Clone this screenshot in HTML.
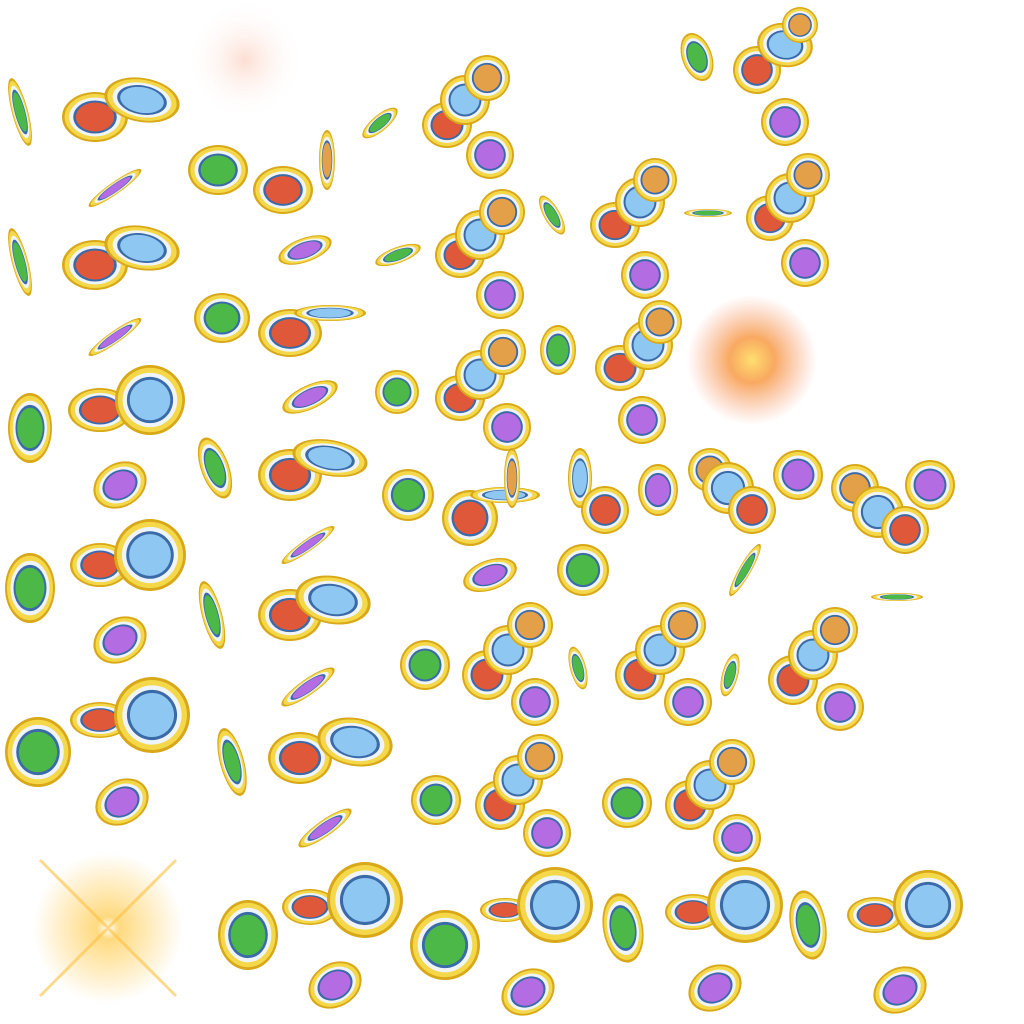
<!DOCTYPE html>
<html><head><meta charset="utf-8"><title>Coin sprite sheet</title>
<style>html,body{margin:0;padding:0;background:#fff;width:1024px;height:1024px;overflow:hidden}svg{display:block}</style></head>
<body>
<svg id="sheet" width="1024" height="1024" viewBox="0 0 1024 1024" xmlns="http://www.w3.org/2000/svg">
<defs>
<radialGradient id="glowO"><stop offset="0" stop-color="#ffe070"/><stop offset="0.35" stop-color="#f8a050" stop-opacity="0.9"/><stop offset="1" stop-color="#f8a080" stop-opacity="0"/></radialGradient>
<radialGradient id="glowS"><stop offset="0" stop-color="#fff"/><stop offset="0.15" stop-color="#ffd060"/><stop offset="1" stop-color="#ffd060" stop-opacity="0"/></radialGradient>
<radialGradient id="glowP"><stop offset="0" stop-color="#fbd0c0" stop-opacity="0.7"/><stop offset="1" stop-color="#fff" stop-opacity="0"/></radialGradient>
</defs>
<g id="fx">
<circle cx="245" cy="60" r="60" fill="url(#glowP)"/>
<circle cx="752" cy="360" r="65" fill="url(#glowO)"/>
<circle cx="108" cy="928" r="75" fill="url(#glowS)" opacity="0.8"/>
<path d="M108 928 L40 860 M108 928 L176 860 M108 928 L40 996 M108 928 L176 996" stroke="#ffc040" stroke-width="3" opacity="0.6"/>
</g>
<g id="coins"></g>
</svg>
<script>
const cx=[20,95,142,380,447,465,487,490,697,757,785,800,785,
115,218,283,327,305,398,
20,95,142,115,222,290,330,460,480,502,500,552,615,640,655,645,708,770,790,808,805,
30,100,150,120,215,310,397,290,330,460,480,503,507,558,620,648,660,642,
408,470,505,512,580,605,658,710,728,752,798,855,878,905,930,
30,100,150,120,212,308,290,333,490,583,745,897,
425,487,508,530,535,578,640,660,683,688,730,793,813,835,840,
38,100,152,122,232,308,300,355,325,436,500,518,540,547,627,690,710,732,737,
248,310,365,335,445,505,555,528,623,693,745,715,808,875,928,900];
const cy=[112,117,100,123,125,100,78,155,57,70,45,25,122,
188,170,190,160,250,255,
262,265,248,337,318,333,313,255,235,212,295,215,225,202,180,275,213,218,198,175,263,
428,410,400,485,468,397,392,475,458,398,375,352,427,350,368,345,322,420,
495,518,495,478,478,510,490,470,488,510,475,488,512,530,485,
588,565,555,640,615,545,615,600,575,570,570,597,
665,675,650,625,702,668,675,650,625,702,675,680,655,630,707,
752,720,715,802,762,687,758,742,828,800,805,780,757,833,803,805,785,762,838,
935,907,900,985,945,910,905,992,928,912,905,988,925,915,905,990];
const rx=[8,33,38,22,25,25,23,24,15,24,28,18,24,
32,30,30,8,28,24,
8,33,38,32,28,32,36,25,25,23,24,8,25,25,22,24,24,24,25,22,24,
22,32,35,28,14,30,22,32,38,25,25,23,24,18,25,25,22,24,
26,28,35,8,12,24,20,22,26,24,25,24,26,24,25,
25,30,36,28,10,32,32,38,28,26,6,26,
25,25,25,23,24,8,25,25,23,24,8,25,25,23,24,
33,30,38,28,12,32,32,38,32,25,25,25,23,24,25,25,25,23,24,
30,28,38,28,35,25,38,28,20,28,38,28,18,28,35,28];
const ry=[35,25,22,8,23,25,23,24,25,24,22,18,24,
6,25,24,30,12,8,
35,25,22,6,25,24,8,23,25,23,24,22,23,25,22,24,4,23,25,22,24,
35,22,35,22,32,12,22,26,18,23,25,23,24,25,23,25,22,24,
26,28,8,30,30,24,26,22,26,24,25,24,26,24,25,
35,22,36,22,35,6,26,24,15,26,30,4,
25,25,25,23,24,22,25,25,23,24,22,25,25,23,24,
35,18,38,22,35,8,26,24,8,25,25,25,23,24,25,25,25,23,24,
35,18,38,22,35,12,38,22,35,18,38,22,35,18,35,22];
const rot=[-15,0,10,-40,0,0,0,0,-20,0,10,0,0,
-35,0,0,0,-20,-20,
-15,0,10,-35,0,0,0,0,0,0,0,-30,0,0,0,0,0,0,0,0,0,
0,0,0,-30,-20,-25,0,0,10,0,0,0,0,0,0,0,0,0,
0,0,0,0,0,0,0,0,0,0,0,0,0,0,0,
0,0,0,-30,-15,-35,0,10,-20,0,30,0,
0,0,0,0,0,-15,0,0,0,0,15,0,0,0,0,
0,0,10,-30,-15,-35,0,10,-35,0,0,0,0,0,0,0,0,0,0,
0,0,0,-30,0,0,0,-30,-10,0,0,-30,-10,0,0,-30];
const col=['g','o','b','g','o','b','t','p','g','o','b','t','p',
'p','g','o','t','p','g',
'g','o','b','p','g','o','b','o','b','t','p','g','o','b','t','p','g','o','b','t','p',
'g','o','b','p','g','p','g','o','b','o','b','t','p','g','o','b','t','p',
'g','o','b','t','b','o','p','t','b','o','p','t','b','o','p',
'g','o','b','p','g','p','o','b','p','g','g','g',
'g','o','b','t','p','g','o','b','t','p','g','o','b','t','p',
'g','o','b','p','g','p','o','b','p','g','o','b','t','p','g','o','b','t','p',
'g','o','b','p','g','o','b','p','g','o','b','p','g','o','b','p'];
const fills={g:'#4cb848',o:'#e0583a',b:'#8ec8f2',p:'#b46ce2',t:'#e4a048'};
const names={g:'green',o:'orange',b:'blue',p:'purple',t:'tan'};
const g=document.getElementById('coins');
const NS='http://www.w3.org/2000/svg';
for(let i=0;i<cx.length;i++){
  const c=document.createElementNS(NS,'g');
  
  
  c.setAttribute('transform','translate('+cx[i]+','+cy[i]+') rotate('+rot[i]+')');
  const a=rx[i],b=ry[i];
  const layers=[[a,b,'#d8a818'],[a*0.92,b*0.92,'#f4d84a'],[a*0.78,b*0.78,'#eef4f8'],[a*0.66,b*0.66,'#3a6aa8'],[a*0.58,b*0.58,fills[col[i]]]];
  layers.forEach(L=>{
    const e=document.createElementNS(NS,'ellipse');
    e.setAttribute('rx',Math.max(L[0],0.5));e.setAttribute('ry',Math.max(L[1],0.5));e.setAttribute('fill',L[2]);
    c.appendChild(e);
  });
  g.appendChild(c);
}
</script>
</body></html>
